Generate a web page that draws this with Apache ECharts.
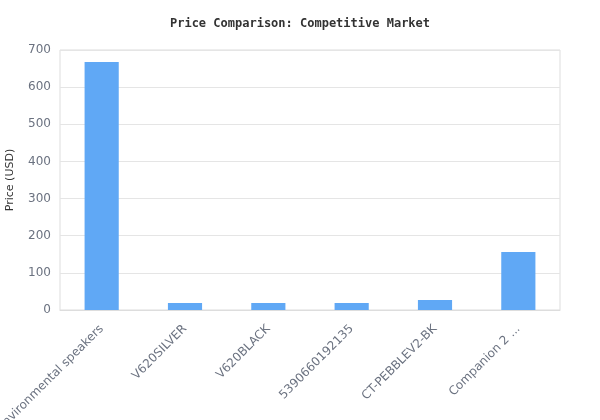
<!DOCTYPE html>
<html><head><meta charset="utf-8">
<script src="https://cdn.jsdelivr.net/npm/echarts@6/dist/echarts.min.js"></script>
<style>html,body{margin:0;padding:0;background:#fff}#c{width:600px;height:420px}</style>
</head><body><div id="c"></div>
<script>
const categories = ["Environmental speakers", "V620SILVER", "V620BLACK", "5390660192135", "CT-PEBBLEV2-BK", "Companion 2 Series III Multimedia Speaker System"];
const prices = [668, 19, 19, 19, 27, 156];
const yTicks = [0, 100, 200, 300, 400, 500, 600, 700];

const chart = echarts.init(document.getElementById('c'));
chart.setOption({
  animation: false,
  title: {
    text: 'Price Comparison: Competitive Market',
    left: 'center', top: 13,
    textStyle: { fontFamily: 'DejaVu Sans Mono', fontSize: 12, fontWeight: 'bold', color: '#333' }
  },
  grid: { left: 60, right: 40, top: 50, bottom: 110, show: true, borderColor: '#ddd', borderWidth: 1, outerBoundsMode: 'none', containLabel: false },
  xAxis: {
    type: 'category', data: categories,
    axisTick: { show: false },
    axisLine: { lineStyle: { color: '#ddd' } },
    axisLabel: {
      rotate: 45, color: '#6b7280', fontSize: 12, fontFamily: 'DejaVu Sans', interval: 0, margin: 17,
      formatter: v => v.length > 22 ? v.slice(0, 12) + '...' : v
    }
  },
  yAxis: {
    type: 'value', min: yTicks[0], max: yTicks[yTicks.length - 1], interval: 100,
    name: 'Price (USD)', nameLocation: 'middle', nameGap: 44,
    nameTextStyle: { color: '#333', fontSize: 11, fontFamily: 'DejaVu Sans' },
    axisLine: { show: false }, axisTick: { show: false },
    axisLabel: { color: '#6b7280', fontSize: 12, fontFamily: 'DejaVu Sans', margin: 9 },
    splitLine: { lineStyle: { color: '#e5e5e5' } }
  },
  series: [{
    type: 'bar', data: prices, barWidth: '41%',
    itemStyle: { color: '#60a8f5' }
  }]
});
</script></body></html>
